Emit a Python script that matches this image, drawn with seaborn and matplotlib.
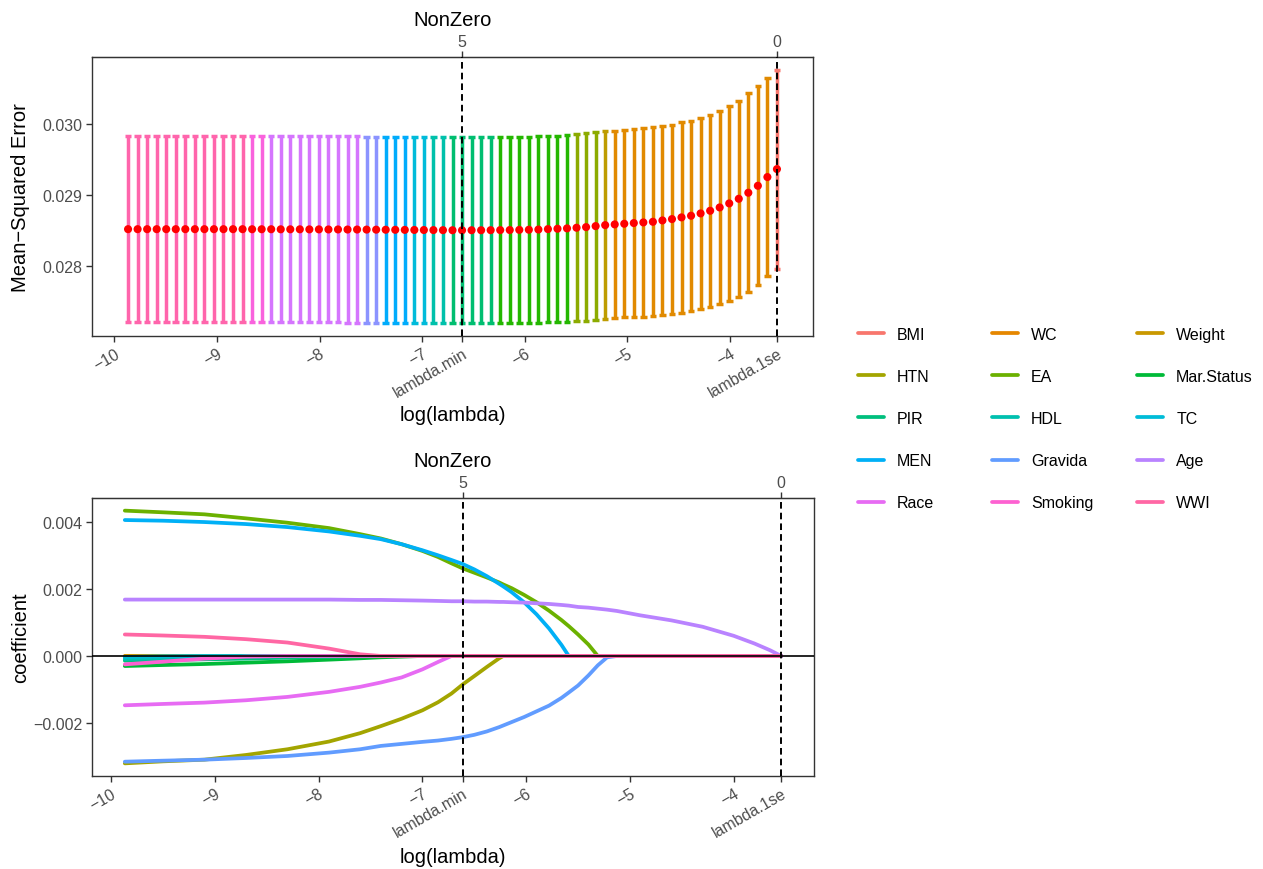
import numpy as np
import pandas as pd
import matplotlib
matplotlib.use("Agg")
import matplotlib.pyplot as plt
import seaborn as sns
from matplotlib.lines import Line2D

# ---------------- cross-validation curve ----------------
log_lambda = [
    -3.543, -3.636, -3.729, -3.822, -3.915, -4.008, -4.101, -4.194, -4.287, -4.380,
    -4.473, -4.566, -4.659, -4.752, -4.845, -4.938, -5.031, -5.124, -5.217, -5.310,
    -5.403, -5.496, -5.589, -5.682, -5.775, -5.868, -5.961, -6.054, -6.147, -6.240,
    -6.333, -6.426, -6.519, -6.612, -6.705, -6.798, -6.891, -6.984, -7.077, -7.170,
    -7.263, -7.356, -7.449, -7.542, -7.635, -7.728, -7.821, -7.914, -8.007, -8.100,
    -8.193, -8.286, -8.379, -8.472, -8.565, -8.658, -8.751, -8.844, -8.937, -9.030,
    -9.123, -9.216, -9.309, -9.402, -9.495, -9.588, -9.681, -9.774, -9.867,
]
cv_mean = [
    0.029366, 0.029254, 0.029131, 0.029033, 0.028948, 0.028883, 0.028826, 0.028779,
    0.028742, 0.028709, 0.028686, 0.028662, 0.028643, 0.028624, 0.028615, 0.028606,
    0.028596, 0.028587, 0.028577, 0.028563, 0.028549, 0.028540, 0.028531, 0.028526,
    0.028521, 0.028515, 0.028512, 0.028510, 0.028508, 0.028507, 0.028506, 0.028505,
    0.028505, 0.028504, 0.028505, 0.028506, 0.028507, 0.028508, 0.028509, 0.028510,
    0.028511, 0.028512, 0.028513, 0.028514, 0.028515, 0.028515, 0.028516, 0.028516,
    0.028517, 0.028517, 0.028518, 0.028518, 0.028518, 0.028519, 0.028519, 0.028519,
    0.028520, 0.028520, 0.028520, 0.028520, 0.028520, 0.028520, 0.028520, 0.028520,
    0.028520, 0.028520, 0.028520, 0.028520, 0.028520,
]
cv_sd = [
    0.00140, 0.00140, 0.00140, 0.00140, 0.00138, 0.00137, 0.00136, 0.00135, 0.00134,
    0.00134, 0.00134, 0.00133, 0.00133, 0.00133, 0.00133, 0.00132, 0.00132, 0.00132,
    0.00132, 0.00132, 0.00132, 0.00132, 0.00132, 0.00131, 0.00131, 0.00131, 0.00131,
    0.00131, 0.00131, 0.00131, 0.00131, 0.00131, 0.00131, 0.00131, 0.00131, 0.00131,
    0.00131, 0.00131, 0.00131, 0.00131, 0.00131, 0.00131, 0.00131, 0.00131, 0.00131,
    0.00131, 0.00131, 0.00131, 0.00131, 0.00131, 0.00131, 0.00131, 0.00131, 0.00131,
    0.00131, 0.00131, 0.00131, 0.00131, 0.00131, 0.00131, 0.00131, 0.00131, 0.00131,
    0.00131, 0.00131, 0.00131, 0.00131, 0.00131, 0.00131,
]
n_nonzero = (
    [0] + [1] * 17 + [2] + [3] * 3 + [4] * 8 + [5] * 5 + [6] * 2 + [7] * 2
    + [8] * 3 + [9] * 2 + [10] * 10 + [11] * 2 + [12] * 13
)
lambda_min = -6.612
lambda_1se = -3.543
nonzero_at_min = 5
nonzero_at_1se = 0

# ---------------- coefficient paths ----------------
variables = ["BMI", "WC", "Weight", "HTN", "EA", "Mar.Status", "PIR", "HDL",
             "TC", "MEN", "Gravida", "Age", "Race", "Smoking", "WWI"]
path_x = [-9.867, -9.5, -9.1, -8.7, -8.3, -7.9, -7.6, -7.4, -7.2, -7.0, -6.85,
          -6.72, -6.612, -6.5, -6.38, -6.26, -6.22, -6.14, -6.02, -5.9, -5.78,
          -5.66, -5.59, -5.5, -5.4, -5.31, -5.22, -5.124, -4.9, -4.6, -4.3, -4.0,
          -3.8, -3.65, -3.543]
coef_BMI = [0.0] * 35
coef_WC = [0.0] * 35
coef_Weight = [0.0] * 35
coef_HTN = [-0.00320, -0.00314, -0.00309, -0.00295, -0.00278, -0.00255, -0.00230,
            -0.00209, -0.00187, -0.00162, -0.00138, -0.00112, -0.00085, -0.00060,
            -0.00033, -0.00007] + [0.0] * 19
coef_EA = [0.00433, 0.00428, 0.00422, 0.00410, 0.00397, 0.00381, 0.00363, 0.00350,
           0.00333, 0.00313, 0.00295, 0.00276, 0.00261, 0.00248, 0.00234, 0.00219,
           0.00213, 0.00202, 0.00182, 0.00160, 0.00135, 0.00107, 0.00089, 0.00064,
           0.00034] + [0.0] * 10
coef_MarStatus = [-0.00030, -0.00027, -0.00024, -0.00020, -0.00016, -0.00011,
                  -0.00007, -0.00004, -0.00002] + [0.0] * 26
coef_PIR = [-0.00014, -0.00012, -0.00010, -0.00008, -0.00005, -0.00003,
            -0.00001] + [0.0] * 28
coef_HDL = [-0.00009, -0.00007, -0.00005, -0.00003, -0.00001] + [0.0] * 30
coef_TC = [-0.00003, -0.00001] + [0.0] * 33
coef_MEN = [0.00405, 0.00403, 0.00399, 0.00393, 0.00384, 0.00371, 0.00358, 0.00348,
            0.00333, 0.00315, 0.00300, 0.00286, 0.00274, 0.00258, 0.00238, 0.00215,
            0.00207, 0.00190, 0.00160, 0.00124, 0.00082, 0.00033] + [0.0] * 13
coef_Gravida = [-0.00315, -0.00312, -0.00309, -0.00304, -0.00298, -0.00288, -0.00278,
                -0.00268, -0.00262, -0.00256, -0.00252, -0.00247, -0.00242, -0.00235,
                -0.00225, -0.00212, -0.00207, -0.00197, -0.00182, -0.00165, -0.00148,
                -0.00125, -0.00109, -0.00088, -0.00058, -0.00028, -0.00004] + [0.0] * 8
coef_Age = [0.00168, 0.00168, 0.00168, 0.00168, 0.00168, 0.00168, 0.00167, 0.00167,
            0.00166, 0.00165, 0.00164, 0.00163, 0.00163, 0.00162, 0.00162, 0.00161,
            0.00161, 0.00160, 0.00159, 0.00157, 0.00155, 0.00152, 0.00150, 0.00146,
            0.00144, 0.00141, 0.00138, 0.00134, 0.00121, 0.00106, 0.00087, 0.00060,
            0.00037, 0.00017, 0.0]
coef_Race = [-0.00147, -0.00143, -0.00139, -0.00132, -0.00122, -0.00107, -0.00092,
             -0.00079, -0.00064, -0.00040, -0.00018] + [0.0] * 24
coef_Smoking = [-0.00025, -0.00017, -0.00008, -0.00002] + [0.0] * 31
coef_WWI = [0.00064, 0.00061, 0.00057, 0.00050, 0.00040, 0.00022, 0.00005] + [0.0] * 28

coef_paths = [coef_BMI, coef_WC, coef_Weight, coef_HTN, coef_EA, coef_MarStatus,
              coef_PIR, coef_HDL, coef_TC, coef_MEN, coef_Gravida, coef_Age,
              coef_Race, coef_Smoking, coef_WWI]

x_ticks = [-10, -9, -8, -7, -6, -5, -4]


def hue_pal(n, c=100.0, l=65.0):
    """Evenly spaced HCL hues (polar LUV -> sRGB), as in scales::hue_pal."""
    hues = np.linspace(15, 375 - 360.0 / n, n)
    XN, YN, ZN = 95.047, 100.000, 108.883
    t = XN + YN + ZN
    xw, yw = XN / t, YN / t
    uN = 2 * xw / (6 * yw - xw + 1.5)
    vN = 4.5 * yw / (6 * yw - xw + 1.5)
    out = []
    for h in hues:
        U = c * np.cos(np.radians(h))
        V = c * np.sin(np.radians(h))
        Y = YN * ((l + 16) / 116) ** 3
        u = U / (13 * l) + uN
        v = V / (13 * l) + vN
        X = 9.0 * Y * u / (4 * v)
        Zc = -X / 3 - 5 * Y + 3 * Y / v
        rgb = [(3.240479 * X - 1.537150 * Y - 0.498535 * Zc) / YN,
               (-0.969256 * X + 1.875992 * Y + 0.041556 * Zc) / YN,
               (0.055648 * X - 0.204043 * Y + 1.057311 * Zc) / YN]
        g = []
        for ch in rgb:
            ch = 1.055 * ch ** (1 / 2.4) - 0.055 if ch > 0.00304 else 12.92 * ch
            g.append(min(max(ch, 0.0), 1.0))
        out.append(tuple(g))
    return out


sns.set_style("ticks")
plt.rcParams["font.family"] = ["Liberation Sans", "DejaVu Sans"]
plt.rcParams["axes.unicode_minus"] = True
plt.rcParams["text.color"] = "black"
plt.rcParams["axes.labelcolor"] = "black"

TICK_FS = 11.5
TITLE_FS = 14.5
GREY30 = "#4D4D4D"
FRAME = "#333333"

fig = plt.figure(figsize=(12.63, 8.70), dpi=100)
ax_top = fig.add_axes([92 / 1263, 1 - 337 / 870, 721 / 1263, 279 / 870])
ax_bot = fig.add_axes([92 / 1263, 1 - 777 / 870, 722 / 1263, 278 / 870])

# ---- top: CV error bars coloured by number of non-zero coefficients ----
levels = sorted(set(n_nonzero))
level_pal = hue_pal(len(levels))
bar_colors = [level_pal[levels.index(k)] for k in n_nonzero]
x = np.array(log_lambda)
m = np.array(cv_mean)
sd = np.array(cv_sd)
lo, hi = m - sd, m + sd
cap = 0.032
ax_top.vlines(x, lo, hi, colors=bar_colors, lw=2.5, zorder=2)
ax_top.hlines(hi, x - cap, x + cap, colors=bar_colors, lw=2.5, zorder=2)
ax_top.hlines(lo, x - cap, x + cap, colors=bar_colors, lw=2.5, zorder=2)
sns.scatterplot(x=x, y=m, color="red", s=34, edgecolor="none", ax=ax_top,
                zorder=3, legend=False)
ax_top.set_ylabel("Mean\u2212Squared Error", fontsize=TITLE_FS)
ax_top.set_yticks([0.028, 0.029, 0.030])
ax_top.set_yticklabels(["0.028", "0.029", "0.030"])

# ---- bottom: coefficient paths ----
var_colors = dict(zip(variables, hue_pal(len(variables))))
path_df = pd.concat(
    [pd.DataFrame({"log_lambda": path_x, "coef": vals, "variable": name})
     for name, vals in zip(variables, coef_paths)],
    ignore_index=True,
)
sns.lineplot(data=path_df, x="log_lambda", y="coef", hue="variable",
             hue_order=variables, palette=var_colors, lw=2.7, sort=False,
             estimator=None, legend=False, ax=ax_bot)
ax_bot.axhline(0, color="black", lw=1.2, zorder=5)
ax_bot.set_ylabel("coefficient", fontsize=TITLE_FS)
ax_bot.set_yticks([-0.002, 0.0, 0.002, 0.004])
ax_bot.set_yticklabels(["\u22120.002", "0.000", "0.002", "0.004"])

# ---- shared axis decoration ----
for ax in (ax_top, ax_bot):
    for sp in ax.spines.values():
        sp.set_visible(True)
        sp.set_color(FRAME)
        sp.set_linewidth(1.0)
    for xv in (lambda_min, lambda_1se):
        ax.axvline(xv, color="black", lw=1.4, dashes=(3.4, 2.1), zorder=6)
    ticks = x_ticks + [lambda_min, lambda_1se]
    labels = [str(t).replace("-", "\u2212") for t in x_ticks] + ["lambda.min", "lambda.1se"]
    ax.set_xticks(ticks)
    ax.set_xticklabels(labels)
    for lab in ax.get_xticklabels():
        lab.set_rotation(30)
        lab.set_ha("right")
        lab.set_va("top")
        lab.set_rotation_mode("anchor")
    ax.tick_params(axis="both", labelsize=TICK_FS, labelcolor=GREY30, color=FRAME,
                   length=4, width=1.0, pad=3)
    ax.set_xlabel("log(lambda)", fontsize=TITLE_FS, color="black")
    ax.set_ylabel(ax.get_ylabel(), fontsize=TITLE_FS, color="black")
    ax.xaxis.label.set_va("center")
    ax.yaxis.label.set_va("center")
    ax.yaxis.set_label_coords(-0.0985, 0.5)
    sec = ax.secondary_xaxis("top")
    sec.set_xticks([lambda_min, lambda_1se])
    sec.set_xticklabels([str(nonzero_at_min), str(nonzero_at_1se)])
    sec.tick_params(labelsize=TICK_FS, labelcolor=GREY30, color=FRAME,
                    length=4, width=1.0, pad=2)
    sec.set_xlabel("NonZero", fontsize=TITLE_FS, labelpad=6, color="black")
    sec.spines["top"].set_color(FRAME)

ax_top.xaxis.set_label_coords(0.5, -0.28)
ax_bot.xaxis.set_label_coords(0.5, -0.289)

# ---- legend: three columns, filled row by row ----
handles = [Line2D([0], [0], color=var_colors[v], lw=2.7) for v in variables]
col_x = [858 / 1263, 992 / 1263, 1137 / 1263]
for c in range(3):
    idx = list(range(c, 15, 3))
    leg = fig.legend([handles[i] for i in idx], [variables[i] for i in idx],
                     loc="upper left", bbox_to_anchor=(col_x[c], 0.6234),
                     frameon=False, fontsize=TICK_FS, handlelength=1.6,
                     handletextpad=0.85, labelspacing=1.70, borderpad=0,
                     borderaxespad=0)
    for txt in leg.get_texts():
        txt.set_color("black")

fig.savefig("out.png", dpi=100)
